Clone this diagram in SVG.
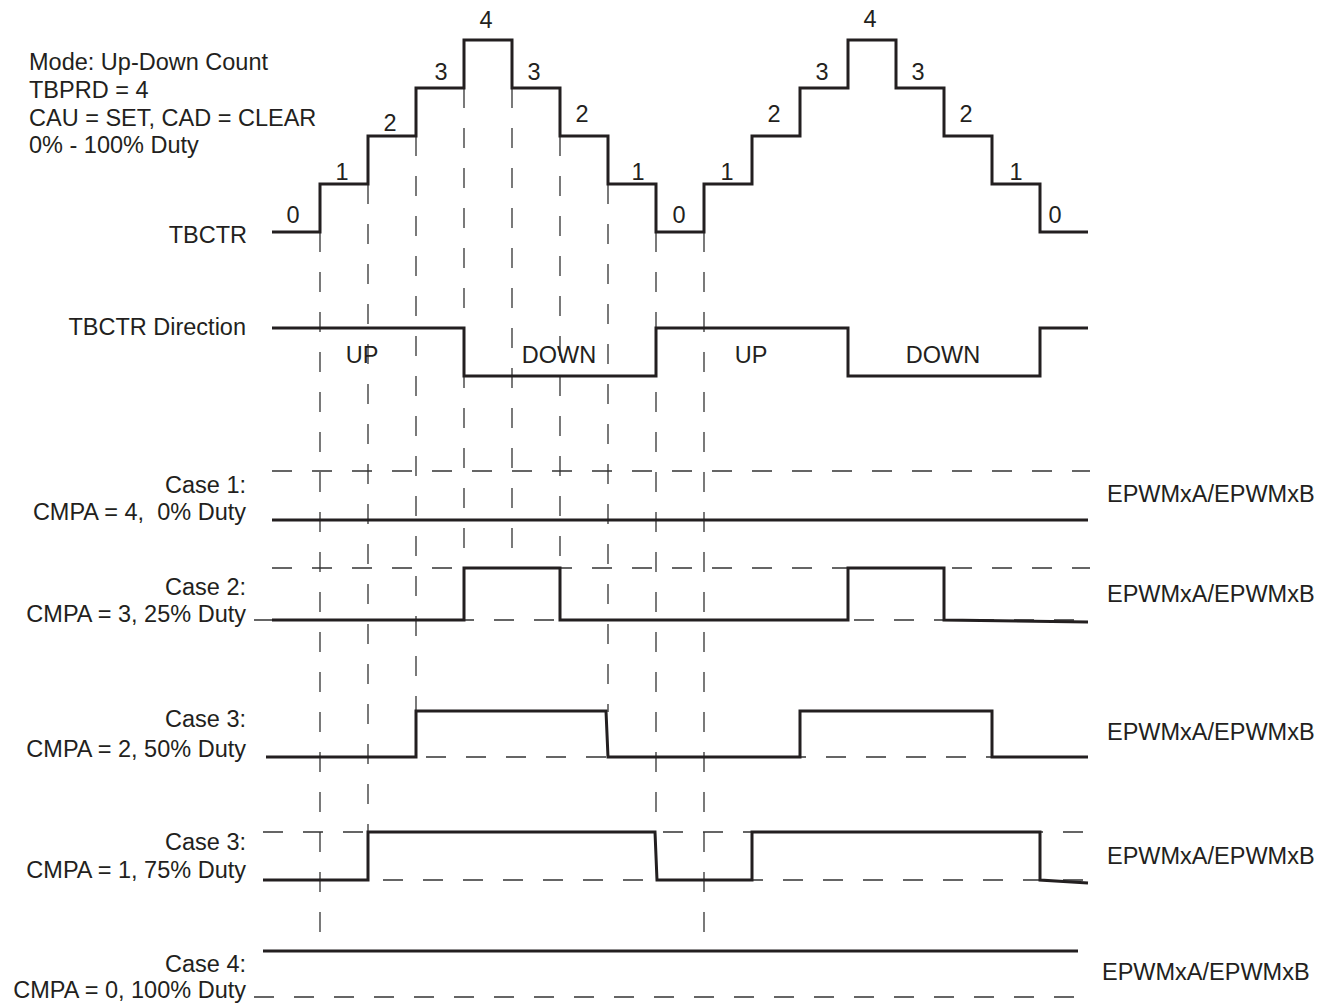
<svg xmlns="http://www.w3.org/2000/svg" width="1329" height="1005" viewBox="0 0 1329 1005">
<style>
text{font-family:"Liberation Sans",Arial,sans-serif;font-size:23.5px;fill:#231f20}
.r{text-anchor:end}
.m{text-anchor:middle}
.w{fill:none;stroke:#231f20;stroke-width:3;stroke-linejoin:miter;stroke-linecap:butt}
.d{fill:none;stroke:#333;stroke-width:1.3;stroke-dasharray:20 20}
</style>
<rect width="1329" height="1005" fill="#fff"/>
<g id="header">
<text x="29" y="70">Mode: Up-Down Count</text>
<text x="29" y="98">TBPRD = 4</text>
<text x="29" y="126">CAU = SET, CAD = CLEAR</text>
<text x="29" y="153">0% - 100% Duty</text>
</g>
<g id="connectors">
<path class="d" d="M320,232V932"/>
<path class="d" d="M368,184V832"/>
<path class="d" d="M416,136V712"/>
<path class="d" d="M464,88V568"/>
<path class="d" d="M512,88V568"/>
<path class="d" d="M560,136V568"/>
<path class="d" d="M608,184V712"/>
<path class="d" d="M656,232V832"/>
<path class="d" d="M704,232V952"/>
<path class="d" d="M272,471H1090"/>
<path class="d" d="M272,568H1090"/>
<path class="d" d="M254,620H1088"/>
<path class="d" d="M266,757H1088"/>
<path class="d" d="M263,832H1088"/>
<path class="d" d="M263,880H1088"/>
<path class="d" d="M254,997H1076"/>
</g>
<g id="tbctr">
<text class="r" x="247" y="243">TBCTR</text>
<path class="w" d="M272,232H320V184H368V136H416V88H464V40H512V88H560V136H608V184H656V232H704V184H752V136H800V88H848V40H896V88H944V136H992V184H1040V232H1088"/>
<text class="m" x="293" y="223">0</text>
<text class="m" x="342" y="180">1</text>
<text class="m" x="390" y="131">2</text>
<text class="m" x="441" y="80">3</text>
<text class="m" x="486" y="28">4</text>
<text class="m" x="534" y="80">3</text>
<text class="m" x="582" y="122">2</text>
<text class="m" x="638" y="180">1</text>
<text class="m" x="679" y="223">0</text>
<text class="m" x="727" y="180">1</text>
<text class="m" x="774" y="122">2</text>
<text class="m" x="822" y="80">3</text>
<text class="m" x="870" y="27">4</text>
<text class="m" x="918" y="80">3</text>
<text class="m" x="966" y="122">2</text>
<text class="m" x="1016" y="180">1</text>
<text class="m" x="1055" y="223">0</text>
</g>
<g id="direction">
<text class="r" x="246" y="335">TBCTR Direction</text>
<path class="w" d="M272,328H464V376H656V328H848V376H1040V328H1088"/>
<text class="m" x="362" y="363">UP</text>
<text class="m" x="559" y="363">DOWN</text>
<text class="m" x="751" y="363">UP</text>
<text class="m" x="943" y="363">DOWN</text>
</g>
<g id="case1">
<text class="r" x="246" y="493">Case 1:</text>
<text class="r" x="246" y="520" xml:space="preserve">CMPA = 4,  0% Duty</text>
<path class="w" d="M272,520H1088"/>
<text x="1107" y="502">EPWMxA/EPWMxB</text>
</g>
<g id="case2">
<text class="r" x="246" y="595">Case 2:</text>
<text class="r" x="246" y="622">CMPA = 3, 25% Duty</text>
<path class="w" d="M272,620H464V568H560V620H848V568H944V620L1088,622"/>
<text x="1107" y="602">EPWMxA/EPWMxB</text>
</g>
<g id="case3a">
<text class="r" x="246" y="727">Case 3:</text>
<text class="r" x="246" y="757">CMPA = 2, 50% Duty</text>
<path class="w" d="M266,757H416V711H606L608,757H800V711H992V757H1088"/>
<text x="1107" y="740">EPWMxA/EPWMxB</text>
</g>
<g id="case3b">
<text class="r" x="246" y="850">Case 3:</text>
<text class="r" x="246" y="878">CMPA = 1, 75% Duty</text>
<path class="w" d="M263,880H368V832H655L657,880H752V832H1040V880L1088,883"/>
<text x="1107" y="864">EPWMxA/EPWMxB</text>
</g>
<g id="case4">
<text class="r" x="246" y="972">Case 4:</text>
<text class="r" x="246" y="998">CMPA = 0, 100% Duty</text>
<path class="w" d="M263,951H1078"/>
<text x="1102" y="980">EPWMxA/EPWMxB</text>
</g>
</svg>
